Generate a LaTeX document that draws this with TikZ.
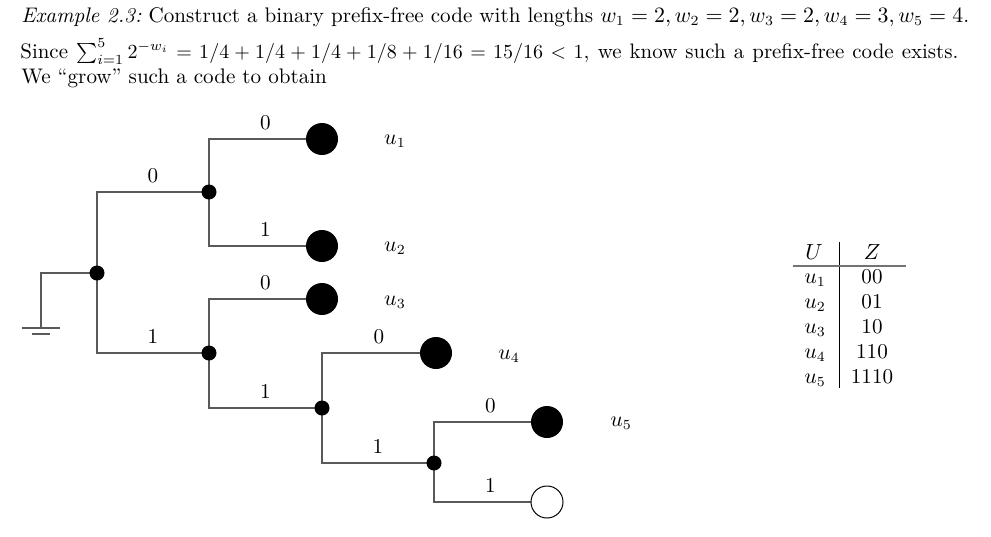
\documentclass[tikz,border=0pt]{standalone}
\usepackage{amsmath}
\pgfdeclarelayer{bg}
\pgfsetlayers{bg,main}
\tikzset{
  wire/.style={draw=black!65, line width=0.65pt},
  inner/.style={circle, fill=black, inner sep=0pt, minimum size=7.5pt},
  leaf/.style={circle, fill=black, inner sep=0pt, minimum size=16pt},
  openleaf/.style={circle, draw=black, fill=white, line width=0.5pt, inner sep=0pt, minimum size=16pt},
  bit/.style={above, yshift=1.2pt, inner sep=3pt},
  sym/.style={inner sep=0pt},
  txt/.style={anchor=base west, inner sep=0pt},
}
\begin{document}
\fontsize{10.55pt}{12.6pt}\selectfont
\begin{tikzpicture}[x=0.5pt, y=-0.5pt]
\useasboundingbox (0,0) rectangle (991,536);

% text
\node[txt] (l1) at (21,22) {\emph{Example 2.3:}\ Construct a binary prefix-free code with lengths $w_1=2, w_2=2, w_3=2, w_4=3, w_5=4$.};
\node[txt, font=\fontsize{10.46pt}{12.5pt}\selectfont] (l2) at (20,58) {\makebox[469pt][s]{Since $\sum_{i=1}^5 2^{-w_i} = 1/4+1/4+1/4+1/8+1/16 = 15/16 < 1$, we know such a prefix-free code exists.}};
\node[txt] (l3) at (21,83) {We ``grow'' such a code to obtain};

% tree nodes
\node[inner] (r) at (97,273) {};
\node[inner] (a) at (209,192) {};
\node[inner] (b) at (209,353) {};
\node[inner] (c) at (322,408) {};
\node[inner] (d) at (434,463) {};
\node[leaf] (u1) at (322,139) {};
\node[leaf] (u2) at (322,246) {};
\node[leaf] (u3) at (322,299) {};
\node[leaf] (u4) at (436,353) {};
\node[leaf] (u5) at (547,422) {};
\node[openleaf] (u6) at (547,502) {};
\coordinate (gnd) at (41,328);

% leaf labels
\node[sym] (t1) at (395,141) {$u_1$};
\node[sym] (t2) at (395,248) {$u_2$};
\node[sym] (t3) at (395,302) {$u_3$};
\node[sym] (t4) at (509,356) {$u_4$};
\node[sym] (t5) at (621,423) {$u_5$};

\begin{pgfonlayer}{bg}
\draw[wire] (r.center) |- node[bit, pos=0.75]{0} (a.center);
\draw[wire] (r.center) |- node[bit, pos=0.75]{1} (b.center);
\draw[wire] (a.center) |- node[bit, pos=0.75]{0} (u1.center);
\draw[wire] (a.center) |- node[bit, pos=0.75]{1} (u2.center);
\draw[wire] (b.center) |- node[bit, pos=0.75]{0} (u3.center);
\draw[wire] (b.center) |- node[bit, pos=0.75]{1} (c.center);
\draw[wire] (c.center) |- node[bit, pos=0.75]{0} (u4.center);
\draw[wire] (c.center) |- node[bit, pos=0.75]{1} (d.center);
\draw[wire] (d.center) |- node[bit, pos=0.75]{0} (u5.center);
\draw[wire] (d.center) |- node[bit, pos=0.75]{1} (u6.center);
\draw[wire] (r.center) -| (gnd);
\end{pgfonlayer}
% ground symbol
\draw[wire] ([xshift=-9.5pt]gnd) -- ([xshift=9.5pt]gnd);
\draw[wire] ([xshift=-4.5pt,yshift=-3pt]gnd) -- ([xshift=4.5pt,yshift=-3pt]gnd);

% table
\node[sym, anchor=base] (hU) at (814,259) {$U$};
\node[sym, anchor=base] (hZ) at (872,259) {$Z$};
\node[sym, anchor=base] (c1) at (815,283) {$u_1$};
\node[sym, anchor=base] (c2) at (815,308) {$u_2$};
\node[sym, anchor=base] (c3) at (815,333) {$u_3$};
\node[sym, anchor=base] (c4) at (815,358) {$u_4$};
\node[sym, anchor=base] (c5) at (815,383) {$u_5$};
\node[sym, anchor=base] (z1) at (872,283) {00};
\node[sym, anchor=base] (z2) at (872,308) {01};
\node[sym, anchor=base] (z3) at (872,333) {10};
\node[sym, anchor=base] (z4) at (872,358) {110};
\node[sym, anchor=base] (z5) at (872,383) {1110};
\draw[black, line width=0.4pt] (839,242) -- (839,388);
\draw[black!55, line width=0.9pt] (793,266) -- (906,266);
\end{tikzpicture}
\end{document}
